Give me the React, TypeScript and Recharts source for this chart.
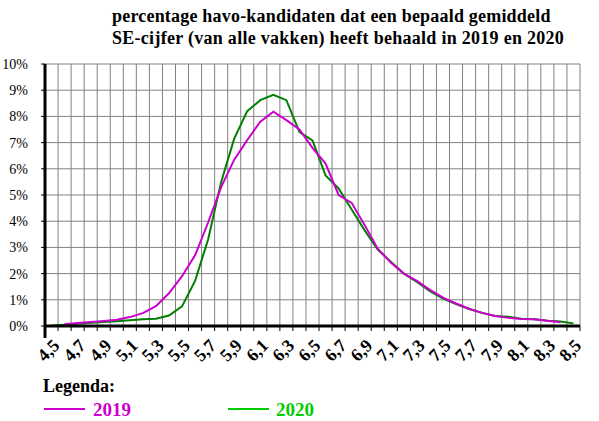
import { LineChart, Line, XAxis, YAxis, CartesianGrid } from 'recharts';

// gemiddeld SE-cijfer (categorieën) en percentage kandidaten per jaar
const grades = [
  4.5, 4.6, 4.7, 4.8, 4.9, 5.0, 5.1, 5.2, 5.3, 5.4, 5.5, 5.6, 5.7, 5.8, 5.9, 6.0, 6.1, 6.2, 6.3, 6.4, 6.5,
  6.6, 6.7, 6.8, 6.9, 7.0, 7.1, 7.2, 7.3, 7.4, 7.5, 7.6, 7.7, 7.8, 7.9, 8.0, 8.1, 8.2, 8.3, 8.4, 8.5,
];
const pct2019 = [
  null, 0.07, 0.11, 0.15, 0.19, 0.24, 0.34, 0.49, 0.76, 1.25, 1.9, 2.7, 3.95, 5.3, 6.35, 7.1, 7.8, 8.18, 7.86, 7.5, 6.8,
  6.2, 5.0, 4.7, 3.85, 2.95, 2.42, 2.0, 1.72, 1.38, 1.08, 0.86, 0.66, 0.5, 0.38, 0.31, 0.27, 0.26, 0.2, 0.14, null,
];
const pct2020 = [
  0.02, 0.05, 0.09, 0.12, 0.15, 0.18, 0.22, 0.26, 0.28, 0.4, 0.75, 1.72, 3.3, 5.5, 7.15, 8.2, 8.62, 8.82, 8.62, 7.4, 7.08,
  5.75, 5.25, 4.45, 3.65, 2.92, 2.45, 2.0, 1.68, 1.33, 1.05, 0.84, 0.65, 0.5, 0.38, 0.35, 0.28, 0.26, 0.2, 0.17, 0.1,
];
const gradeLabels = [4.5, 4.7, 4.9, 5.1, 5.3, 5.5, 5.7, 5.9, 6.1, 6.3, 6.5, 6.7, 6.9, 7.1, 7.3, 7.5, 7.7, 7.9, 8.1, 8.3, 8.5];
const yTicks = [0, 1, 2, 3, 4, 5, 6, 7, 8, 9, 10];

const data = grades.map((g, i) => ({ grade: g, y2019: pct2019[i], y2020: pct2020[i] }));

// category borders (gridlines and tick marks sit between categories)
const boundaries = [grades[0] - 0.05, ...grades.map((g) => g + 0.05)].map((v) => Math.round(v * 100) / 100);
const boundaryKeys = new Set(boundaries.map((v) => v.toFixed(2)));
const xTicks = [...boundaries, ...gradeLabels].sort((a, b) => a - b);

const SERIF = '"Liberation Serif", "Times New Roman", serif';
const MAGENTA = '#CC00CC';
const GREEN = '#008000';

function XTick(props: any) {
  const { x, y, payload } = props;
  const v: number = payload.value;
  if (boundaryKeys.has(v.toFixed(2))) {
    const first = v === boundaries[0];
    return (
      <line x1={x} x2={x} y1={y} y2={y + (first ? 12 : 5)} stroke="#000" strokeWidth={first ? 3 : 1} />
    );
  }
  const tx = x + 9;
  const ty = y + 20.6;
  return (
    <text
      x={tx}
      y={ty}
      transform={`rotate(-45, ${tx}, ${ty})`}
      textAnchor="end"
      fontFamily={SERIF}
      fontWeight="bold"
      fontSize={18}
      fill="#000"
    >
      {v.toFixed(1).replace('.', ',')}
    </text>
  );
}

function YTick(props: any) {
  const { x, y, payload } = props;
  return (
    <text x={x} y={y} dy={5} textAnchor="end" fontFamily={SERIF} fontSize={14} fill="#000">
      {`${payload.value}%`}
    </text>
  );
}

const textBase = {
  position: 'absolute' as const,
  fontFamily: SERIF,
  fontWeight: 'bold' as const,
  fontSize: 18,
  lineHeight: '18px',
  whiteSpace: 'nowrap' as const,
};

export default function App() {
  return (
    <div style={{ position: 'absolute', left: 0, top: 0, width: 599, height: 421, background: '#fff' }}>
      <div style={{ ...textBase, left: 112, top: 7, letterSpacing: 0.2 }}>
        percentage havo-kandidaten dat een bepaald gemiddeld
      </div>
      <div style={{ ...textBase, left: 112, top: 29, letterSpacing: 0.28 }}>
        SE-cijfer (van alle vakken) heeft behaald in 2019 en 2020
      </div>

      <div style={{ position: 'absolute', left: 0, top: 0 }}>
        <LineChart width={599} height={421} data={data} margin={{ top: 64, right: 19, bottom: 55, left: 0 }}>
          <CartesianGrid stroke="#808080" strokeWidth={1} verticalValues={boundaries} />
          <XAxis
            type="number"
            dataKey="grade"
            domain={[boundaries[0], boundaries[boundaries.length - 1]]}
            ticks={xTicks}
            interval={0}
            tickLine={false}
            tickSize={0}
            tickMargin={0}
            height={40}
            axisLine={{ stroke: '#000', strokeWidth: 3 }}
            tick={<XTick />}
            allowDataOverflow
          />
          <YAxis
            domain={[0, 10]}
            ticks={yTicks}
            interval={0}
            width={45}
            tickSize={4}
            tickMargin={13}
            axisLine={{ stroke: '#000', strokeWidth: 3 }}
            tickLine={{ stroke: '#000' }}
            tick={<YTick />}
            allowDataOverflow
          />
          <Line type="linear" dataKey="y2020" stroke={GREEN} strokeWidth={2} dot={false} isAnimationActive={false} />
          <Line type="linear" dataKey="y2019" stroke={MAGENTA} strokeWidth={2} dot={false} isAnimationActive={false} />
        </LineChart>
      </div>

      <div style={{ ...textBase, left: 43, top: 377 }}>Legenda:</div>
      <div style={{ position: 'absolute', left: 44, top: 408, width: 41, height: 2, background: MAGENTA }} />
      <div style={{ ...textBase, left: 93, top: 401, color: MAGENTA, fontSize: 19 }}>2019</div>
      <div style={{ position: 'absolute', left: 228, top: 408, width: 41, height: 2, background: '#00CC00' }} />
      <div style={{ ...textBase, left: 276, top: 401, color: '#00CC00', fontSize: 19 }}>2020</div>
    </div>
  );
}
